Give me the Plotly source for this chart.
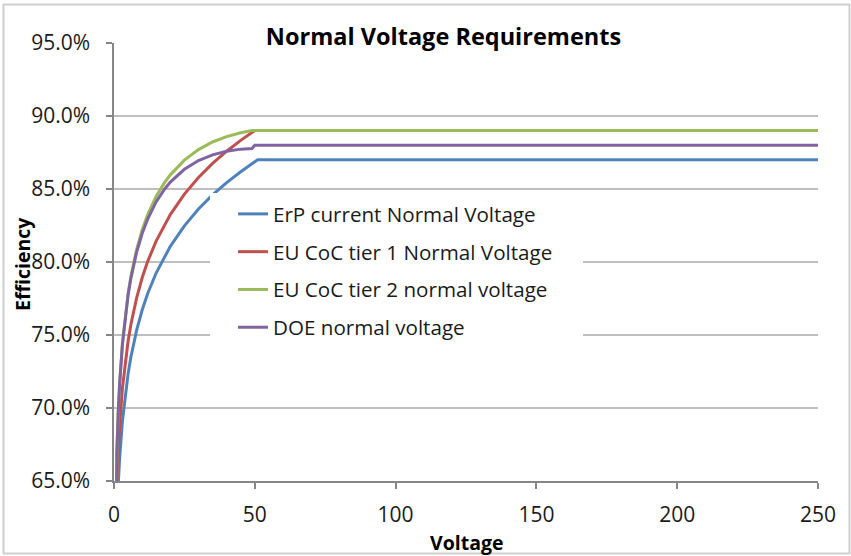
import plotly.graph_objects as go

# Data
voltage = [0.5, 1, 1.5, 2, 3, 4, 5, 6, 7, 8, 10, 12, 15, 18, 20, 25, 30, 35, 40, 45, 49, 50, 51, 250]

erp_current = [0.380, 0.622, 0.6475, 0.6657, 0.6912, 0.7093, 0.7234, 0.7349, 0.7446, 0.7530, 0.7671,
               0.7786, 0.7926, 0.8041, 0.8107, 0.8248, 0.8363, 0.8460, 0.8544, 0.8618, 0.8672, 0.8685,
               0.870, 0.870]
coc_tier1 = [0.395, 0.645, 0.6704, 0.6884, 0.7138, 0.7318, 0.7457, 0.7572, 0.7668, 0.7751, 0.7892,
             0.8006, 0.8145, 0.8259, 0.8325, 0.8465, 0.8579, 0.8675, 0.8759, 0.8833, 0.8886, 0.890,
             0.890, 0.890]
coc_tier2 = [0.420, 0.6689, 0.6971, 0.7169, 0.7446, 0.7638, 0.7785, 0.7903, 0.8001, 0.8084, 0.8220,
             0.8326, 0.8450, 0.8545, 0.8597, 0.8698, 0.8770, 0.8822, 0.8859, 0.8885, 0.8900, 0.890,
             0.890, 0.890]
doe = [0.410, 0.6686, 0.6967, 0.7164, 0.7438, 0.7628, 0.7773, 0.7888, 0.7984, 0.8064, 0.8195,
       0.8296, 0.8413, 0.8500, 0.8547, 0.8635, 0.8695, 0.8734, 0.8759, 0.8773, 0.8777, 0.880,
       0.880, 0.880]

series_names = ["ErP current Normal Voltage", "EU CoC tier 1 Normal Voltage",
                "EU CoC tier 2 normal voltage", "DOE normal voltage"]
series_values = [erp_current, coc_tier1, coc_tier2, doe]
series_colors = ["#4F81BD", "#C0504D", "#9BBB59", "#8064A2"]

y_ticks = [0.65, 0.70, 0.75, 0.80, 0.85, 0.90, 0.95]
x_ticks = [0, 50, 100, 150, 200, 250]

FONT = "Open Sans"
W, H = 851, 556
PL, PR, PT, PB = 114, 818, 43, 481          # plot area edges in pixels
L, R, T, B = PL, W - PR, PT, H - PB
PW, PH = PR - PL, PB - PT


def px_x(p):
    return (p - PL) / PW


def px_y(p):
    return (PB - p) / PH


fig = go.Figure()
for i, (name, vals, col) in enumerate(zip(series_names, series_values, series_colors)):
    fig.add_trace(go.Scatter(x=voltage, y=vals, mode="lines", name=name,
                             legendgroup=f"g{i}",
                             line=dict(color=col, width=3)))

fig.update_layout(
    width=W, height=H,
    margin=dict(l=L, r=R, t=T, b=B),
    paper_bgcolor="white", plot_bgcolor="white",
    font=dict(family=FONT, size=19, color="#1a1a1a"),
    showlegend=True,
    legend=dict(x=px_x(233), y=px_y(194), xanchor="left", yanchor="top",
                bgcolor="rgba(0,0,0,0)", borderwidth=0,
                font=dict(family=FONT, size=20.6, color="#1a1a1a"),
                tracegroupgap=8, itemwidth=30),
    title=dict(text="<b>Normal Voltage Requirements</b>", xref="container", yref="container",
               x=443.5 / W, y=1 - 37 / H, xanchor="center", yanchor="middle",
               font=dict(family=FONT, size=23.5, color="#000000")),
    shapes=[
        dict(type="rect", xref="paper", yref="paper", layer="above",
             x0=px_x(210), x1=px_x(583), y0=px_y(345), y1=px_y(193),
             fillcolor="white", line=dict(width=0)),
        dict(type="rect", xref="paper", yref="paper", layer="below",
             x0=px_x(3.5), x1=px_x(849.5), y0=px_y(553.5), y1=px_y(4.5),
             fillcolor="rgba(0,0,0,0)", line=dict(color="#CFCFCF", width=2)),
    ],
    annotations=[
        dict(text="<b>Voltage</b>", xref="paper", yref="paper", x=px_x(466), y=px_y(542),
             xanchor="center", yanchor="middle", showarrow=False,
             font=dict(family=FONT, size=19.5, color="#000000")),
        dict(text="<b>Efficiency</b>", xref="paper", yref="paper", x=px_x(22), y=px_y(264),
             xanchor="center", yanchor="middle", showarrow=False, textangle=-90,
             font=dict(family=FONT, size=19.5, color="#000000")),
    ],
)

fig.update_xaxes(range=[0, 250], tickvals=x_ticks, showgrid=False, zeroline=False,
                 showline=True, linecolor="#868686", linewidth=1.5,
                 ticks="outside", ticklen=6, tickcolor="#868686", tickwidth=1.5,
                 ticklabelstandoff=8,
                 tickfont=dict(family=FONT, size=21, color="#1a1a1a"))
fig.update_yaxes(range=[0.65, 0.95], tickvals=y_ticks, tickformat=".1%", showgrid=True,
                 gridcolor="#BFBFBF", gridwidth=1.8, zeroline=False,
                 showline=True, linecolor="#868686", linewidth=1.5,
                 ticks="outside", ticklen=6, tickcolor="#868686", tickwidth=1.5,
                 ticklabelstandoff=12,
                 tickfont=dict(family=FONT, size=21, color="#1a1a1a"))

fig.write_html("out.html", config={"displayModeBar": False},
               post_script="document.body.style.margin='0';")
